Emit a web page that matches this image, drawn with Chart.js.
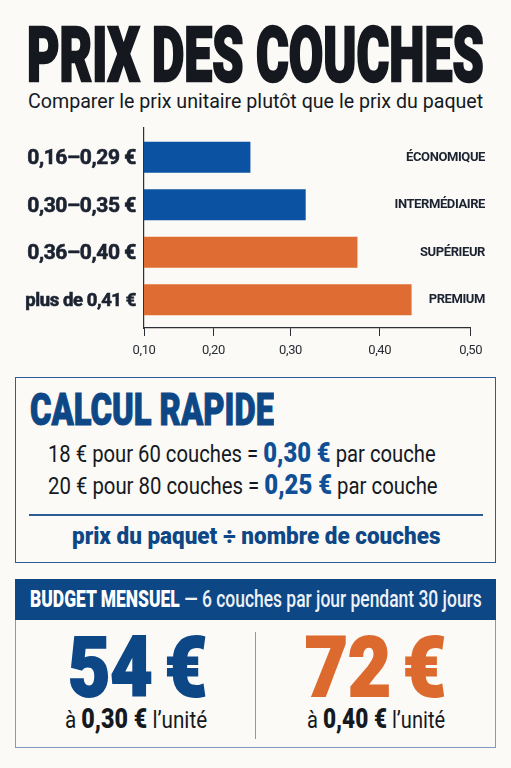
<!DOCTYPE html>
<html lang="fr">
<head>
<meta charset="utf-8">
<title>Prix des couches</title>
<script src="https://cdn.jsdelivr.net/npm/chart.js@4"></script>
<style>
html, body { margin: 0; padding: 0; background: #fbfaf6; }
#page { position: relative; width: 511px; height: 768px; overflow: hidden; background: #fbfaf6; color: #15191f; font-family: Roboto, sans-serif; }
#chart-wrap { position: absolute; left: 0; top: 120px; width: 511px; height: 250px; }
canvas { display: block; }
.t { position: absolute; white-space: nowrap; line-height: 1; transform-origin: left top; }
.big { line-height: 0.76; }
.navy { color: #0d4786; }
.blue { color: #0f4f96; }
.orange { color: #dc6a2e; }
b { font-weight: 700; }
.box { position: absolute; box-sizing: border-box; left: 15px; width: 481px; }
.rule { position: absolute; }
</style>
</head>
<body>
<div id="page">
  <div class="t big" data-w="457" style="left:27px;top:27px;font-size:76px;font-weight:900;-webkit-text-stroke:2.5px #15191f;">PRIX DES COUCHES</div>
  <div class="t" data-w="455" style="left:28px;top:91px;font-size:21px;">Comparer le prix unitaire plutôt que le prix du paquet</div>

  <div id="chart-wrap"><canvas id="chart" width="511" height="250"></canvas></div>

  <div class="box" style="top:377px;height:186px;border:1.5px solid #2b5c94;"></div>
  <div class="t big navy" data-w="244" style="left:30px;top:394px;font-size:44px;font-weight:900;-webkit-text-stroke:1px #0d4786;">CALCUL RAPIDE</div>
  <div class="t" data-w="388" style="left:48px;top:440px;font-size:23px;">18 € pour 60 couches = <b class="blue" style="font-size:27px;font-weight:900;">0,30 €</b> par couche</div>
  <div class="t" data-w="390" style="left:48px;top:472px;font-size:23px;">20 € pour 80 couches = <b class="blue" style="font-size:27px;font-weight:900;">0,25 €</b> par couche</div>
  <div class="rule" style="left:29px;top:514px;width:454px;height:1.5px;background:#2b5c94;"></div>
  <div class="t navy" data-w="368" style="left:72px;top:524px;font-size:24px;font-weight:900;">prix du paquet ÷ nombre de couches</div>

  <div class="box" style="top:579px;height:169px;border:1.5px solid #7f9bbd;"></div>
  <div class="box" style="top:579px;height:41px;background:#0d4786;"></div>
  <div class="t" data-w="452" style="left:30px;top:588px;font-size:23px;font-weight:500;color:#eef2f6;"><b style="color:#fff;font-weight:900;">BUDGET MENSUEL</b> — 6 couches par jour pendant 30 jours</div>
  <div class="rule" style="left:255px;top:632px;width:1.2px;height:107px;background:#7f9bbd;"></div>
  <div class="t big navy" data-w="139" style="left:68px;top:636px;font-size:84px;font-weight:900;word-spacing:-7px;-webkit-text-stroke:2px #0d4786;">54 €</div>
  <div class="t big orange" data-w="141" style="left:305px;top:636px;font-size:84px;font-weight:900;word-spacing:-7px;-webkit-text-stroke:2px #dc6a2e;">72 €</div>
  <div class="t" data-w="142" style="left:65px;top:706px;font-size:24px;">à <b style="font-size:27px;font-weight:900;">0,30 €</b> l’unité</div>
  <div class="t" data-w="138" style="left:307px;top:706px;font-size:24px;">à <b style="font-size:27px;font-weight:900;">0,40 €</b> l’unité</div>
</div>

<script>
const categories = ["0,16–0,29 €", "0,30–0,35 €", "0,36–0,40 €", "plus de 0,41 €"];
const tiers = ["ÉCONOMIQUE", "INTERMÉDIAIRE", "SUPÉRIEUR", "PREMIUM"];
const prices = [0.248, 0.317, 0.375, 0.435];
const barColors = ["#0b52a3", "#0b52a3", "#df6c33", "#df6c33"];
const tickValues = [0.10, 0.20, 0.30, 0.40, 0.50];
// the printed axis is not evenly spaced, this is where each tick sits along it (0 to 1)
const tickStops = [0, 0.2124, 0.4485, 0.7216, 1];

class UnevenScale extends Chart.LinearScale {
    getPixelForValue(value) {
        let i = 0;
        while (i < tickValues.length - 2 && value > tickValues[i + 1]) i++;
        const f = (value - tickValues[i]) / (tickValues[i + 1] - tickValues[i]);
        return this.left + this.width * (tickStops[i] + f * (tickStops[i + 1] - tickStops[i]));
    }
}
UnevenScale.id = 'uneven';
UnevenScale.defaults = Chart.LinearScale.defaults;

// category bands stop short of the axis ends
class InsetCategory extends Chart.CategoryScale {
    configure() {
        super.configure();
        this._startPixel += 5.5;
        this._endPixel -= 4.5;
        this._length -= 10;
    }
}
InsetCategory.id = 'insetCategory';
InsetCategory.defaults = Chart.CategoryScale.defaults;

Chart.register(UnevenScale, InsetCategory);

const tierLabels = {
    id: 'tierLabels',
    beforeDraw(chart) {
        chart.ctx.letterSpacing = '-0.4px';
    },
    afterDatasetsDraw(chart) {
        const ctx = chart.ctx;
        const y = chart.scales.y;
        ctx.save();
        ctx.font = '700 13px Roboto';
        ctx.fillStyle = '#1b2230';
        ctx.textAlign = 'right';
        ctx.textBaseline = 'middle';
        tiers.forEach((label, i) => ctx.fillText(label, 485, y.getPixelForValue(i)));
        ctx.restore();
    }
};

new Chart(document.getElementById('chart'), {
    type: 'bar',
    data: {
        labels: categories,
        datasets: [{ data: prices, backgroundColor: barColors, categoryPercentage: 1, barPercentage: 0.652 }]
    },
    options: {
        indexAxis: 'y',
        responsive: false,
        animation: false,
        layout: { padding: { top: 8, right: 40.3, left: 0, bottom: 0 } },
        plugins: { legend: { display: false }, tooltip: { enabled: false } },
        scales: {
            x: {
                type: 'uneven',
                min: 0.1,
                max: 0.5,
                afterFit(scale) { scale.height = 42; },
                afterBuildTicks(scale) { scale.ticks = tickValues.map(value => ({ value })); },
                border: { color: '#2c2f33', width: 1.2 },
                grid: { drawOnChartArea: false, drawTicks: true, tickLength: 8, color: '#2c2f33' },
                ticks: {
                    autoSkip: false,
                    maxRotation: 0,
                    padding: 7,
                    color: '#2a2e35',
                    font: { family: 'Roboto', size: 13 },
                    callback: value => value.toFixed(2).replace('.', ',')
                }
            },
            y: {
                type: 'insetCategory',
                afterFit(scale) {
                    scale.width = 144;
                    scale.paddingTop = 0;
                    scale.paddingBottom = 0;
                },
                border: { color: '#2c2f33', width: 1.2 },
                grid: { display: false, drawTicks: false },
                ticks: {
                    padding: 8,
                    labelOffset: 1.5,
                    color: '#1b2230',
                    textStrokeColor: '#1b2230',
                    textStrokeWidth: 0.6,
                    font: ctx => ({ family: 'Roboto', size: ctx.index === 3 ? 18.5 : 21, weight: 700 })
                }
            }
        }
    },
    plugins: [tierLabels]
});

// squeeze or stretch each text line to the width it has on the poster
document.querySelectorAll('.t[data-w]').forEach(el => {
    el.style.transform = 'scaleX(' + (el.dataset.w / el.offsetWidth) + ')';
});
</script>
</body>
</html>
